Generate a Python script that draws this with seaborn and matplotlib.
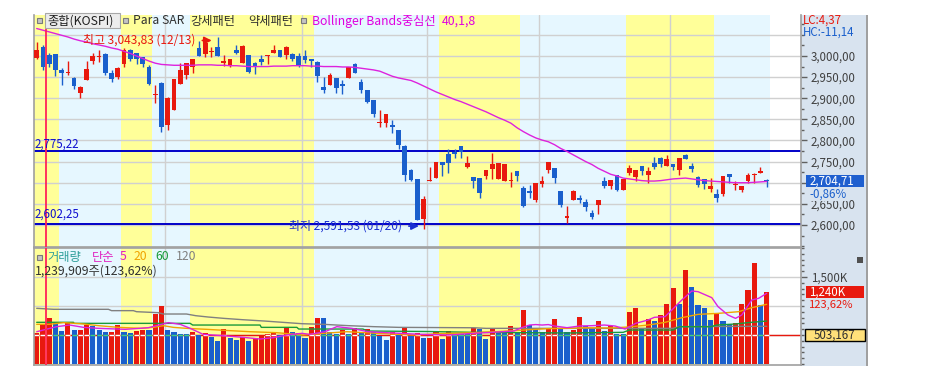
import matplotlib
matplotlib.use("Agg")
import matplotlib.pyplot as plt
import matplotlib.transforms as mtransforms
from matplotlib.patches import Rectangle
from matplotlib.ticker import FixedLocator, MultipleLocator, FuncFormatter, NullFormatter
import numpy as np
import seaborn as sns

# ---- daily candles (KOSPI) ----
opens = [2996, 3022, 3002, 3004, 2967, 2959, 2949, 2912, 2943, 2988,
         2998, 3005, 2960, 2951, 2980, 3014, 3006, 2997, 2975, 2907,
         2935, 2837, 2872, 2934, 2955, 2973, 3018, 3004, 3009, 3022,
         2983, 2979, 3014, 2984, 3002, 2984, 2994, 3000, 3008, 3014,
         3002, 3005, 3000, 3000, 2992, 2986, 2926, 2931, 2949, 2933,
         2949, 2981, 2939, 2920, 2897, 2841, 2841, 2837, 2825, 2788,
         2730, 2709, 2613, 2704, 2712, 2748, 2767, 2773, 2787, 2738,
         2714, 2712, 2716, 2733, 2710, 2705, 2703, 2728, 2687, 2680,
         2659, 2696, 2729, 2734, 2681, 2616, 2658, 2664, 2655, 2629,
         2647, 2703, 2692, 2718, 2683, 2722, 2714, 2740, 2718, 2746,
         2758, 2740, 2744, 2729, 2766, 2740, 2713, 2708, 2685, 2673,
         2673, 2720, 2694, 2683, 2705, 2719, 2724, 2706]
highs = [3034, 3026, 3006, 3005, 2971, 2987, 2950, 2928, 2989, 3006,
         3013, 3006, 2968, 2973, 3018, 3016, 3007, 2998, 2979, 2931,
         2939, 2904, 2946, 2983, 2984, 2993, 3035, 3038, 3022, 3043.83,
         3002, 2993, 3026, 3025, 3003, 2985, 3002, 3002, 3026, 3015,
         3023, 3008, 3006, 3013, 2994, 2987, 2951, 2959, 2949, 2943,
         2973, 2983, 2945, 2920, 2897, 2872, 2863, 2849, 2826, 2789,
         2732, 2709, 2669, 2737, 2750, 2748, 2779, 2779, 2787, 2764,
         2714, 2712, 2730, 2770, 2747, 2745, 2726, 2728, 2692, 2695,
         2699, 2716, 2748, 2734, 2681, 2645, 2683, 2671, 2661, 2636,
         2659, 2713, 2706, 2718, 2709, 2742, 2730, 2740, 2738, 2760,
         2762, 2766, 2744, 2759, 2768, 2746, 2717, 2708, 2711, 2684,
         2716, 2720, 2703, 2692, 2724, 2722, 2738, 2710]
lows = [2994, 2967, 2973, 2953, 2931, 2955, 2923, 2901, 2942, 2980,
        2985, 2955, 2938, 2945, 2975, 2987, 2980, 2973, 2931, 2888,
        2821, 2825, 2871, 2933, 2945, 2960, 2999, 2998, 2998, 2999,
        2977, 2975, 3005, 2983, 2959, 2957, 2979, 2980, 3007, 2997,
        2994, 2989, 2975, 2983, 2973, 2938, 2912, 2931, 2912, 2909,
        2949, 2959, 2912, 2889, 2856, 2831, 2831, 2817, 2779, 2703,
        2703, 2611, 2591.53, 2704, 2712, 2716, 2722, 2758, 2758, 2734,
        2687, 2663, 2710, 2710, 2709, 2704, 2689, 2703, 2642, 2663,
        2655, 2691, 2724, 2700, 2642, 2604, 2658, 2651, 2632, 2613,
        2626, 2687, 2685, 2681, 2683, 2718, 2703, 2718, 2699, 2732,
        2738, 2740, 2729, 2718, 2756, 2726, 2689, 2684, 2679, 2655,
        2669, 2700, 2683, 2679, 2700, 2700, 2724, 2689]
closes = [3014, 2975, 2980, 2967, 2959, 2962, 2930, 2927, 2969, 3001,
          3001, 2959, 2945, 2971, 3014, 2994, 2993, 2980, 2934, 2910,
          2833, 2900, 2945, 2968, 2983, 2992, 3000, 3030, 3012, 3000,
          2989, 2992, 3006, 3024, 2963, 2976, 2985, 3002, 3014, 2998,
          3022, 2994, 2976, 2991, 2989, 2953, 2920, 2955, 2925, 2929,
          2973, 2959, 2920, 2890, 2863, 2843, 2863, 2831, 2789, 2718,
          2707, 2612, 2661, 2707, 2748, 2742, 2746, 2767, 2773, 2746,
          2703, 2675, 2730, 2744, 2746, 2744, 2706, 2716, 2645, 2676,
          2699, 2703, 2748, 2712, 2647, 2621, 2680, 2658, 2643, 2618,
          2659, 2692, 2706, 2683, 2709, 2736, 2730, 2728, 2728, 2738,
          2744, 2755, 2738, 2759, 2756, 2733, 2695, 2697, 2692, 2663,
          2716, 2714, 2696, 2692, 2718, 2721, 2728, 2704.71]

# Bollinger Bands middle line (40,1,8)
bb_mid = [3065, 3061, 3057, 3053, 3049, 3045, 3040, 3036, 3033, 3029,
          3026, 3023, 3019, 3016, 3011, 3006, 3000, 2994, 2988, 2983,
          2980, 2979, 2978, 2978, 2978, 2978, 2979, 2979, 2979, 2978,
          2978, 2977, 2977, 2976, 2975, 2975, 2975, 2975, 2976, 2976,
          2976, 2977, 2977, 2977, 2976, 2976, 2975, 2975, 2975, 2974,
          2974, 2973, 2971, 2969, 2967, 2964, 2958, 2952, 2948, 2945,
          2942, 2936, 2929, 2922, 2915, 2909, 2903, 2897, 2892, 2886,
          2880, 2874, 2868, 2861, 2854, 2848, 2841, 2830, 2821, 2813,
          2806, 2801, 2797, 2790, 2781, 2774, 2766, 2758, 2750, 2743,
          2734, 2727, 2720, 2716, 2711, 2709, 2707, 2705, 2704, 2704,
          2705, 2707, 2709, 2710, 2711, 2709, 2707, 2705, 2704, 2703,
          2702, 2701, 2700, 2700, 2700, 2701, 2702, 2703]

# Parabolic SAR phases: first candle of each phase, strong (True) / weak (False)
sar_phase_start = [0, 4, 14, 19, 25, 45, 65, 78, 95, 109]
sar_phase_strong = [True, False, True, False, True, False, True, False, True, False]

# first candle of each new month
month_start = [21, 43, 63, 81, 102]

level_high = 2775.22
level_low = 2602.25
high_idx, high_val, high_date = 29, 3043.83, "12/13"
low_idx, low_val, low_date = 62, 2591.53, "01/20"
lc_val, hc_val = 4.37, -11.14
price_change_pct = -0.86

# ---- volume (thousand shares) ----
volumes = [529, 684, 799, 701, 569, 701, 586, 586, 672, 661,
           586, 557, 557, 672, 557, 540, 575, 586, 586, 862,
           1000, 586, 557, 511, 511, 557, 500, 529, 471, 397,
           603, 454, 414, 471, 397, 454, 500, 511, 557, 500,
           615, 546, 529, 454, 644, 799, 799, 546, 511, 586,
           511, 626, 546, 603, 557, 489, 414, 557, 500, 640,
           489, 529, 454, 454, 546, 431, 569, 511, 511, 511,
           626, 603, 431, 603, 546, 546, 655, 546, 931, 672,
           603, 546, 615, 776, 603, 546, 586, 816, 655, 626,
           741, 569, 655, 511, 511, 902, 971, 615, 776, 741,
           845, 1034, 1316, 1029, 1621, 1328, 1017, 971, 759, 885,
           741, 684, 713, 1034, 1276, 1747, 1017, 1239.909]
# R = volume up on the day, B = down
vol_up = ("RRRBBRBRRB" "BBRRBBRRBR" "RBBBBRBRBB" "RBBRBRRRRB" "RBBBRRBBBR"
          "BRBRBBBRBR" "BRBRRBRBBB" "RBBRBBRBRB" "BBRRBBRRBB" "RBRBBRRBRB"
          "RRRBRBBBBR" "BBRRRRBR")
vol_ref = 503.167
vol_change_pct = 123.62

# volume moving averages read at sample candles
ma5_x = [0, 3.2, 5.3, 7.5, 9.9, 14.2, 17.9, 21.1, 23, 24.6, 26.7, 29.9, 33.1, 35.8, 37.9,
         40.1, 42.5, 43.8, 46.2, 48.1, 50.5, 53.1, 56.1, 61.7, 66, 70, 73, 76.5, 77.7, 79,
         80, 81, 82, 83, 85, 87, 89, 91, 92.7, 94.3, 96, 98, 99, 100.7, 101.8,
         103.4, 105, 106, 108.2, 109.2, 110.8, 112, 113, 114.6, 115.7, 117]
ma5_y = [557, 644, 672, 632, 615, 598, 626, 713, 684, 615, 511, 488, 460, 431, 454,
         500, 529, 511, 557, 644, 615, 557, 540, 511, 500, 529, 546, 569, 626, 672,
         680, 672, 680, 655, 626, 655, 661, 672, 655, 603, 701, 759, 805, 816, 931,
         1103, 1259, 1247, 1144, 989, 845, 787, 845, 1103, 1132, 1218]
ma20_x = [0, 2, 4.3, 7.5, 9.9, 13.1, 16.6, 18.7, 20.3, 21.9, 24, 27.2, 31, 34.2, 38.5,
          42.7, 46, 49.7, 54.5, 60.4, 64, 70, 74, 78, 82, 85, 88, 92, 95, 98,
          100.7, 103.4, 106, 109.2, 112.5, 114.6, 117]
ma20_y = [684, 684, 713, 690, 661, 632, 615, 632, 661, 632, 615, 598, 575, 557, 540,
          500, 529, 557, 529, 500, 520, 540, 560, 585, 610, 615, 626, 620, 640, 672,
          718, 799, 856, 873, 902, 971, 1029]
ma60_x = [0, 5.9, 6, 24.6, 25, 35.8, 36, 41.7, 42, 52.3, 53, 63, 70, 85, 94, 95, 102, 103,
          108, 109, 112, 114, 117]
ma60_y = [719, 719, 701, 701, 672, 672, 632, 632, 603, 603, 569, 560, 546, 535, 546, 586, 586, 643,
          643, 672, 690, 713, 741]
ma120_x = [0, 2.7, 11.5, 12, 15.5, 16, 19.5, 20.3, 24, 25.5, 27.5, 30, 33, 36.5, 39.5,
           42.5, 46, 50, 54, 58, 70, 72, 102, 103, 117]
ma120_y = [960, 943, 943, 920, 920, 902, 885, 862, 862, 833, 810, 787, 764, 741, 718,
           695, 684, 661, 644, 632, 625, 615, 615, 645, 650]

# ---- style ----
RED = "#e8190e"
BLUE = "#1a5fcc"
MAGENTA = "#dd22dd"
YELLOW = "#ffff99"
PALE = "#e6f7ff"
GRID = "#d0d0d0"
PANEL = "#d8e3ef"
EDGE = "#a0a0a0"

sns.set_style("white")
plt.rcParams["font.family"] = ["Noto Sans CJK KR", "DejaVu Sans"]

W, H = 930, 370
fig = plt.figure(figsize=(W / 100, H / 100), dpi=100)


def box(x0, y0, x1, y1):
    return [x0 / W, 1 - y1 / H, (x1 - x0) / W, (y1 - y0) / H]


def fx(x):
    return x / W


def fy(y):
    return 1 - y / H


def fmt_num(v):
    return f"{v:,.2f}".replace(".", ",")


# right scale panel (behind the axes)
fig.patches.append(Rectangle((fx(801), fy(366)), 65 / W, 351 / H, transform=fig.transFigure,
                             facecolor=PANEL, edgecolor="none", zorder=-2))
fig.patches.append(Rectangle((fx(866), fy(366)), 2 / W, 351 / H, transform=fig.transFigure,
                             facecolor=EDGE, edgecolor="none", zorder=-2))

ax = fig.add_axes(box(34, 15, 801, 247))
axv = fig.add_axes(box(34, 248, 801, 365), sharex=ax)

n = len(closes)
idx = np.arange(n)

# SAR phase background, month lines, cursor line
for a in (ax, axv):
    for k, s in enumerate(sar_phase_start):
        e = sar_phase_start[k + 1] if k + 1 < len(sar_phase_start) else n
        a.axvspan(s - 0.5, e - 0.5, color=YELLOW if sar_phase_strong[k] else PALE, lw=0, zorder=0)
    for m in month_start:
        a.axvline(m - 0.5, color=GRID, lw=1, zorder=1)
    a.axvline(1.5, color="#ff2458", lw=1.3, zorder=6)

# price panel
for lvl in np.arange(2600, 3051, 50):
    ax.axhline(lvl, color=GRID, lw=1, zorder=1)
ax.axhline(level_high, color="#0000c8", lw=1.4, zorder=2)
ax.axhline(level_low, color="#0000c8", lw=1.4, zorder=2)

o = np.array(opens)
c = np.array(closes)
cols = [RED if cc >= oo else BLUE for oo, cc in zip(o, c)]
ax.vlines(idx, lows, highs, colors=cols, lw=1, zorder=3)
body_lo = np.minimum(o, c)
body_h = np.maximum(np.abs(c - o), 2.0)
ax.bar(idx, body_h, bottom=body_lo, width=0.76, color=cols, lw=0, zorder=4)

sns.lineplot(x=idx, y=bb_mid, ax=ax, color=MAGENTA, lw=1, zorder=5)

ax.set_xlim(-0.43, 122.5)
ax.set_ylim(2547.9, 3097.0)

# level labels
ax.text(-0.3, level_high, fmt_num(level_high), color="#1010d0", fontsize=8.3, va="bottom", ha="left",
        transform=mtransforms.offset_copy(ax.transData, fig=fig, y=0, units="dots"), zorder=7)
ax.text(-0.3, level_low, fmt_num(level_low), color="#1010d0", fontsize=8.3, va="bottom", ha="left",
        transform=mtransforms.offset_copy(ax.transData, fig=fig, y=3, units="dots"), zorder=7)

# high / low markers
hi_t = mtransforms.offset_copy(ax.transData, fig=fig, y=-3, units="dots")
ax.annotate("", xy=(high_idx - 0.5, high_val), xytext=(high_idx - 2.9, high_val), xycoords=hi_t,
            textcoords=hi_t, arrowprops=dict(arrowstyle="-|>", color=RED, lw=1.2, mutation_scale=11),
            zorder=7)
ax.text(high_idx - 3.5, high_val, f"최고 {fmt_num(high_val)} ({high_date})", color=RED, fontsize=8.6,
        ha="right", va="center", transform=hi_t, zorder=7)
lo_t = mtransforms.offset_copy(ax.transData, fig=fig, y=2.5, units="dots")
ax.annotate("", xy=(low_idx - 0.3, low_val), xytext=(low_idx - 2.8, low_val), xycoords=lo_t,
            textcoords=lo_t, arrowprops=dict(arrowstyle="-|>", color="#1a2fd0", lw=1.2, mutation_scale=11),
            zorder=7)
ax.text(low_idx - 3.5, low_val, f"최저 {fmt_num(low_val)} ({low_date})", color="#1a2fd0", fontsize=8.6,
        ha="right", va="center", transform=lo_t, zorder=7)

# price scale (labels hidden where the last-price box sits)
bh = 12 / 0.4225
ax.yaxis.tick_right()
ax.yaxis.set_major_locator(FixedLocator(np.arange(2600, 3001, 50)))
ax.yaxis.set_minor_locator(MultipleLocator(25))
ax.yaxis.set_major_formatter(FuncFormatter(
    lambda v, p: "" if abs(v - closes[-1]) < bh * 0.75 else fmt_num(v)))
ax.yaxis.set_minor_formatter(NullFormatter())
ax.tick_params(axis="y", which="major", length=4, width=1, color="#606060", pad=3,
               labelsize=8.3, labelcolor="#404040")
ax.tick_params(axis="y", which="minor", length=2, width=1, color="#606060")
ax.tick_params(axis="x", which="both", bottom=False, labelbottom=False)

# last price box
blend = mtransforms.blended_transform_factory(ax.transAxes, ax.transData)
ax.add_patch(Rectangle((1.0065, closes[-1] - bh / 2), 0.0756, bh, transform=blend, facecolor="#1f5fcf",
                       edgecolor="none", clip_on=False, zorder=8))
ax.text(1.011, closes[-1], fmt_num(closes[-1]), transform=blend, color="white", fontsize=8.3,
        va="center", ha="left", clip_on=False, zorder=9)
ax.text(1.011, closes[-1] - 13 / 0.4225, fmt_num(price_change_pct) + "%", transform=blend, color=BLUE,
        fontsize=8.3, va="center", ha="left", clip_on=False, zorder=9,
        bbox=dict(boxstyle="square,pad=0.05", facecolor=PANEL, edgecolor="none"))

# volume panel
for lvl in (500, 1000, 1500):
    axv.axhline(lvl, color=GRID, lw=1, zorder=1)
vcols = [RED if d == "R" else BLUE for d in vol_up]
bw = 0.82
axv.axhline(vol_ref, color=RED, lw=1, zorder=1.5)
axv.bar(idx, volumes, width=bw, color=vcols, lw=0, zorder=2)
over = [i for i in idx if volumes[i] > vol_ref]
axv.hlines([vol_ref] * len(over), [i - bw / 2 for i in over], [i + bw / 2 for i in over],
           colors=["white" if vol_up[i] == "R" else "#40d080" for i in over], lw=1, zorder=2.5)
sns.lineplot(x=ma120_x, y=ma120_y, ax=axv, color="#808080", lw=1, zorder=3)
sns.lineplot(x=ma60_x, y=ma60_y, ax=axv, color="#1a9a3a", lw=1, zorder=3)
sns.lineplot(x=ma20_x, y=ma20_y, ax=axv, color="#f0a400", lw=1, zorder=3)
sns.lineplot(x=ma5_x, y=ma5_y, ax=axv, color=MAGENTA, lw=1, zorder=4)
axv.set_ylim(-17, 2000)
axv.yaxis.tick_right()
axv.yaxis.set_major_locator(FixedLocator([1500]))
axv.yaxis.set_minor_locator(MultipleLocator(100))
axv.yaxis.set_major_formatter(FuncFormatter(lambda v, p: f"{v:,.0f}K"))
axv.yaxis.set_minor_formatter(NullFormatter())
axv.tick_params(axis="y", which="major", length=4, width=1, color="#606060", pad=3,
                labelsize=8.3, labelcolor="#404040")
axv.tick_params(axis="y", which="minor", length=2, width=1, color="#606060")
axv.tick_params(axis="x", which="both", bottom=False, labelbottom=False)
axv.set_xlabel("")
ax.set_xlabel("")

vblend = mtransforms.blended_transform_factory(axv.transAxes, axv.transData)
vh = 12 / 0.058
axv.add_patch(Rectangle((1.0065, volumes[-1] - vh / 2), 0.0756, vh, transform=vblend, facecolor=RED,
                        edgecolor="none", clip_on=False, zorder=8))
axv.text(1.011, volumes[-1], f"{round(volumes[-1]):,}K", transform=vblend, color="white", fontsize=8.3,
         va="center", ha="left", clip_on=False, zorder=9)
axv.text(1.011, volumes[-1] - 12.5 / 0.058, fmt_num(vol_change_pct) + "%", transform=vblend, color=RED,
         fontsize=8.1, va="center", ha="left", clip_on=False, zorder=9)
axv.add_patch(Rectangle((1.0052, vol_ref - vh / 2), 0.078, vh, transform=vblend, facecolor="#ffe07a",
                        edgecolor="black", lw=1, clip_on=False, zorder=8))
axv.text(1.0052 + 0.039, vol_ref, f"{round(vol_ref * 1000):,}", transform=vblend, color="#303030",
         fontsize=8.3, va="center", ha="center", clip_on=False, zorder=9)

for a in (ax, axv):
    for side in ("left", "right", "bottom", "top"):
        a.spines[side].set_color(EDGE)
        a.spines[side].set_linewidth(1.2)
ax.spines["top"].set_visible(False)

# small panel icon
fig.patches.append(Rectangle((fx(857), fy(263)), 6 / W, 6 / H, transform=fig.transFigure,
                             facecolor="#505050", edgecolor="none", zorder=10))


# header legend (price)
def icon(x, y):
    fig.patches.append(Rectangle((fx(x), fy(y + 5)), 5 / W, 5 / H, transform=fig.transFigure,
                                 facecolor="#c4c4c4", edgecolor="#7a7a7a", lw=0.8, zorder=10))


icon(37, 18)
fig.patches.append(Rectangle((fx(45), fy(28)), 75 / W, 15 / H, transform=fig.transFigure,
                             facecolor="#ececec", edgecolor="#a8a8a8", lw=0.8, zorder=10))
fig.text(fx(47), fy(21), "종합(KOSPI)", fontsize=8.8, color="#202020", va="center", ha="left", zorder=11)
icon(123, 18)
fig.text(fx(133), fy(21), "Para SAR", fontsize=8.8, color="#303030", va="center", ha="left", zorder=11)
fig.text(fx(190), fy(21), "강세패턴", fontsize=8.8, color="#303030", va="center", ha="left", zorder=11)
fig.text(fx(248), fy(21), "약세패턴", fontsize=8.8, color="#303030", va="center", ha="left", zorder=11)
icon(301, 18)
fig.text(fx(312), fy(21), "Bollinger Bands중심선", fontsize=8.8, color="#e000e0", va="center", ha="left",
         zorder=11)
fig.text(fx(442), fy(21), "40,1,8", fontsize=8.8, color="#e000e0", va="center", ha="left", zorder=11)

fig.text(fx(803), fy(20), "LC:" + fmt_num(lc_val), fontsize=8.3, color=RED, va="center", ha="left")
fig.text(fx(803), fy(32), "HC:" + fmt_num(hc_val), fontsize=8.3, color=BLUE, va="center", ha="left")

# header legend (volume)
icon(37, 255)
fig.text(fx(47), fy(257), "거래량", fontsize=8.8, color="#2e9e9a", va="center", ha="left", zorder=11)
fig.text(fx(92), fy(257), "단순", fontsize=8.8, color="#e020c0", va="center", ha="left", zorder=11)
fig.text(fx(120), fy(257), "5", fontsize=8.8, color="#e020c0", va="center", ha="left", zorder=11)
fig.text(fx(134), fy(257), "20", fontsize=8.8, color="#f0a400", va="center", ha="left", zorder=11)
fig.text(fx(155), fy(257), "60", fontsize=8.8, color="#1a9a3a", va="center", ha="left", zorder=11)
fig.text(fx(176), fy(257), "120", fontsize=8.8, color="#808080", va="center", ha="left", zorder=11)
fig.text(fx(35), fy(271), f"{round(volumes[-1] * 1000):,}주({fmt_num(vol_change_pct)}%)", fontsize=8.8,
         color="#303030", va="center", ha="left", zorder=11)

fig.savefig("out.png", dpi=100)
